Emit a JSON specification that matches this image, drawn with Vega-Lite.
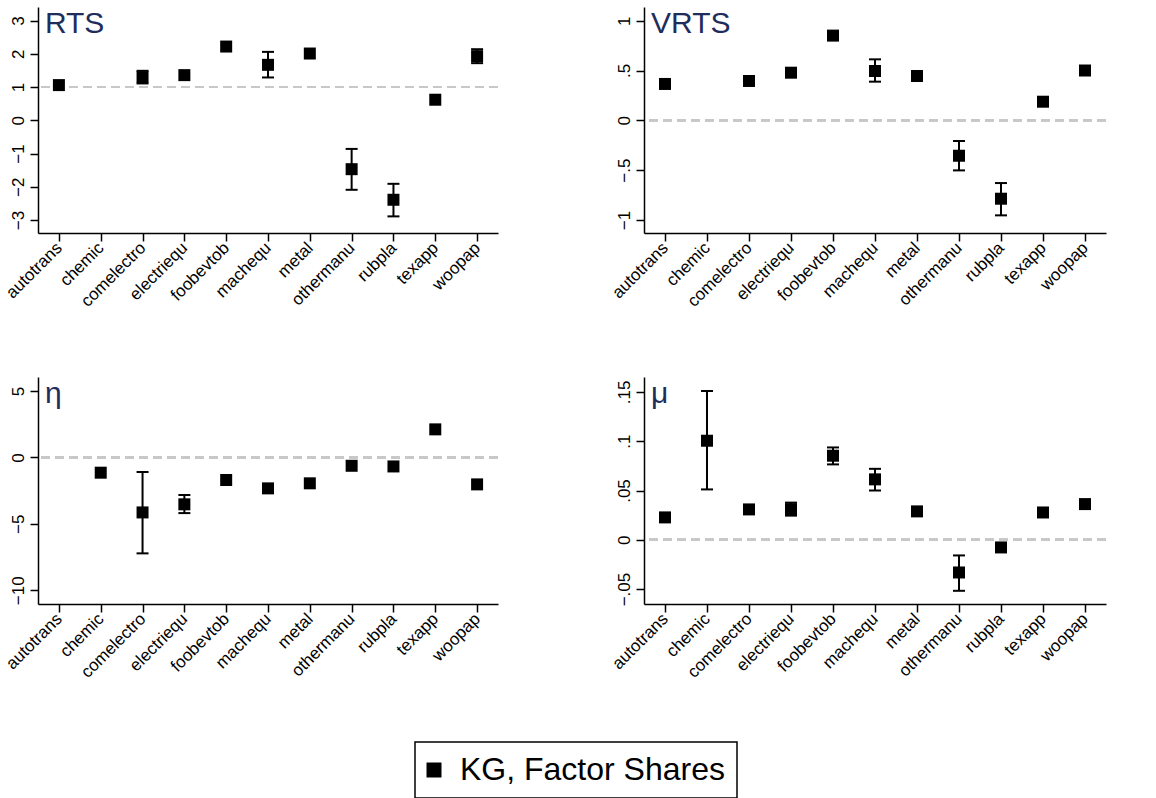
{
  "$schema": "https://vega.github.io/schema/vega-lite/v6.json",
  "padding": {"left": 2, "top": 7, "right": 0, "bottom": 0},
  "background": "white",
  "datasets": {
    "est": [
      {"p": "RTS", "ind": "autotrans", "est": 1.06, "lo": null, "hi": null},
      {"p": "RTS", "ind": "comelectro", "est": 1.30, "lo": 1.11, "hi": 1.49},
      {"p": "RTS", "ind": "electriequ", "est": 1.36, "lo": null, "hi": null},
      {"p": "RTS", "ind": "foobevtob", "est": 2.22, "lo": null, "hi": null},
      {"p": "RTS", "ind": "machequ", "est": 1.67, "lo": 1.29, "hi": 2.06},
      {"p": "RTS", "ind": "metal", "est": 2.01, "lo": null, "hi": null},
      {"p": "RTS", "ind": "othermanu", "est": -1.47, "lo": -2.09, "hi": -0.86},
      {"p": "RTS", "ind": "rubpla", "est": -2.39, "lo": -2.89, "hi": -1.91},
      {"p": "RTS", "ind": "texapp", "est": 0.62, "lo": null, "hi": null},
      {"p": "RTS", "ind": "woopap", "est": 1.93, "lo": 1.72, "hi": 2.14},
      {"p": "VRTS", "ind": "autotrans", "est": 0.365, "lo": null, "hi": null},
      {"p": "VRTS", "ind": "comelectro", "est": 0.395, "lo": null, "hi": null},
      {"p": "VRTS", "ind": "electriequ", "est": 0.478, "lo": null, "hi": null},
      {"p": "VRTS", "ind": "foobevtob", "est": 0.85, "lo": null, "hi": null},
      {"p": "VRTS", "ind": "machequ", "est": 0.495, "lo": 0.388, "hi": 0.612},
      {"p": "VRTS", "ind": "metal", "est": 0.445, "lo": null, "hi": null},
      {"p": "VRTS", "ind": "othermanu", "est": -0.355, "lo": -0.502, "hi": -0.207},
      {"p": "VRTS", "ind": "rubpla", "est": -0.786, "lo": -0.953, "hi": -0.629},
      {"p": "VRTS", "ind": "texapp", "est": 0.187, "lo": null, "hi": null},
      {"p": "VRTS", "ind": "woopap", "est": 0.50, "lo": null, "hi": null},
      {"p": "eta", "ind": "chemic", "est": -1.15, "lo": null, "hi": null},
      {"p": "eta", "ind": "comelectro", "est": -4.14, "lo": -7.22, "hi": -1.10},
      {"p": "eta", "ind": "electriequ", "est": -3.53, "lo": -4.19, "hi": -2.83},
      {"p": "eta", "ind": "foobevtob", "est": -1.70, "lo": null, "hi": null},
      {"p": "eta", "ind": "machequ", "est": -2.33, "lo": null, "hi": null},
      {"p": "eta", "ind": "metal", "est": -1.95, "lo": null, "hi": null},
      {"p": "eta", "ind": "othermanu", "est": -0.63, "lo": null, "hi": null},
      {"p": "eta", "ind": "rubpla", "est": -0.68, "lo": null, "hi": null},
      {"p": "eta", "ind": "texapp", "est": 2.11, "lo": null, "hi": null},
      {"p": "eta", "ind": "woopap", "est": -2.03, "lo": null, "hi": null},
      {"p": "mu", "ind": "autotrans", "est": 0.0227, "lo": null, "hi": null},
      {"p": "mu", "ind": "chemic", "est": 0.1005, "lo": 0.0511, "hi": 0.151},
      {"p": "mu", "ind": "comelectro", "est": 0.0308, "lo": null, "hi": null},
      {"p": "mu", "ind": "electriequ", "est": 0.0311, "lo": 0.0245, "hi": 0.0377},
      {"p": "mu", "ind": "foobevtob", "est": 0.0853, "lo": 0.0765, "hi": 0.0937},
      {"p": "mu", "ind": "machequ", "est": 0.0613, "lo": 0.050, "hi": 0.072},
      {"p": "mu", "ind": "metal", "est": 0.0288, "lo": null, "hi": null},
      {"p": "mu", "ind": "othermanu", "est": -0.0332, "lo": -0.0518, "hi": -0.0159},
      {"p": "mu", "ind": "rubpla", "est": -0.0078, "lo": null, "hi": null},
      {"p": "mu", "ind": "texapp", "est": 0.0277, "lo": null, "hi": null},
      {"p": "mu", "ind": "woopap", "est": 0.0362, "lo": null, "hi": null}
    ]
  },
  "data": {"name": "est"},
  "config": {
    "view": {"stroke": null},
    "axis": {"grid": false, "domainColor": "black", "domainWidth": 1.5, "tickColor": "black", "tickWidth": 1.5, "tickSize": 8, "labelColor": "black", "labelFont": "Liberation Sans", "labelFontSize": 17, "labelOverlap": false},
    "axisY": {"labelOverlap": false, "labelAngle": -90, "labelAlign": "center", "labelBaseline": "bottom", "labelPadding": 3, "tickCount": 10},
    "legend": {"orient": "none", "legendX": 377, "legendY": 735, "strokeColor": "black", "strokeWidth": 1.5, "padding": 12, "labelFont": "Liberation Sans", "labelFontSize": 32, "labelColor": "black", "labelLimit": 400, "symbolType": "square", "symbolSize": 225, "symbolFillColor": "black", "symbolStrokeWidth": 0, "symbolOffset": -9, "labelOffset": 10}
  },
  "spacing": 67,
  "resolve": {"scale": {"x": "independent", "y": "independent", "color": "shared"}, "legend": {"color": "shared"}},
  "vconcat": [
    {
      "spacing": 109,
      "resolve": {"scale": {"x": "independent", "y": "independent", "color": "shared"}, "legend": {"color": "shared"}},
      "hconcat": [
        {
          "width": 460, "height": 226,
          "transform": [{"filter": "datum.p == 'RTS'"}],
          "layer": [
            {"mark": {"type": "rule", "strokeDash": [9, 5], "color": "#c8c8c8", "strokeWidth": 2}, "encoding": {"y": {"datum": 1, "type": "quantitative", "title": null, "scale": {"domain": [-3.39, 3.41], "nice": false, "zero": false}, "axis": {"values": [-3, -2, -1, 0, 1, 2, 3], "tickCount": 10, "labelExpr": "replace(format(datum.value, ''), '0.', '.')", "labelOverlap": false}}}},
            {"transform": [{"filter": "datum.lo != null"}], "mark": {"type": "rule", "color": "black", "strokeWidth": 2}, "encoding": {"x": {"field": "ind", "type": "nominal", "title": null, "scale": {"type": "point", "domain": ["autotrans","chemic","comelectro","electriequ","foobevtob","machequ","metal","othermanu","rubpla","texapp","woopap"], "padding": 0.5}}, "y": {"field": "lo", "type": "quantitative", "title": null}, "y2": {"field": "hi"}}},
            {"transform": [{"filter": "datum.lo != null"}], "mark": {"type": "tick", "orient": "horizontal", "size": 12, "thickness": 2, "color": "black", "opacity": 1}, "encoding": {"x": {"field": "ind", "type": "nominal", "title": null}, "y": {"field": "lo", "type": "quantitative", "title": null}}},
            {"transform": [{"filter": "datum.lo != null"}], "mark": {"type": "tick", "orient": "horizontal", "size": 12, "thickness": 2, "color": "black", "opacity": 1}, "encoding": {"x": {"field": "ind", "type": "nominal", "title": null}, "y": {"field": "hi", "type": "quantitative", "title": null}}},
            {"mark": {"type": "point", "shape": "square", "filled": true, "size": 144, "opacity": 1}, "encoding": {
              "x": {"field": "ind", "type": "nominal", "title": null, "axis": {"labelAngle": -45, "labelAlign": "right", "labelBaseline": "middle", "labelPadding": 4}},
              "y": {"field": "est", "type": "quantitative", "title": null},
              "color": {"datum": "KG, Factor Shares", "type": "nominal", "scale": {"domain": ["KG, Factor Shares"], "range": ["#000000"]}, "legend": {"title": null}}
            }},
            {"data": {"values": [{}]}, "mark": {"type": "text", "text": "RTS", "align": "left", "baseline": "alphabetic", "fontSize": 30, "font": "Liberation Sans", "color": "#1f2d5c", "dx": -14, "dy": 26}, "encoding": {"x": {"datum": "autotrans"}, "y": {"datum": 3.41}}}
          ]
        },
        {
          "width": 462, "height": 226,
          "transform": [{"filter": "datum.p == 'VRTS'"}],
          "layer": [
            {"mark": {"type": "rule", "strokeDash": [9, 5], "color": "#c8c8c8", "strokeWidth": 2}, "encoding": {"y": {"datum": 0, "type": "quantitative", "title": null, "scale": {"domain": [-1.13, 1.137], "nice": false, "zero": false}, "axis": {"values": [-1, -0.5, 0, 0.5, 1], "tickCount": 10, "labelExpr": "replace(format(datum.value, ''), '0.', '.')", "labelOverlap": false}}}},
            {"transform": [{"filter": "datum.lo != null"}], "mark": {"type": "rule", "color": "black", "strokeWidth": 2}, "encoding": {"x": {"field": "ind", "type": "nominal", "title": null, "scale": {"type": "point", "domain": ["autotrans","chemic","comelectro","electriequ","foobevtob","machequ","metal","othermanu","rubpla","texapp","woopap"], "padding": 0.5}}, "y": {"field": "lo", "type": "quantitative", "title": null}, "y2": {"field": "hi"}}},
            {"transform": [{"filter": "datum.lo != null"}], "mark": {"type": "tick", "orient": "horizontal", "size": 12, "thickness": 2, "color": "black", "opacity": 1}, "encoding": {"x": {"field": "ind", "type": "nominal", "title": null}, "y": {"field": "lo", "type": "quantitative", "title": null}}},
            {"transform": [{"filter": "datum.lo != null"}], "mark": {"type": "tick", "orient": "horizontal", "size": 12, "thickness": 2, "color": "black", "opacity": 1}, "encoding": {"x": {"field": "ind", "type": "nominal", "title": null}, "y": {"field": "hi", "type": "quantitative", "title": null}}},
            {"mark": {"type": "point", "shape": "square", "filled": true, "size": 144, "opacity": 1}, "encoding": {
              "x": {"field": "ind", "type": "nominal", "title": null, "axis": {"labelAngle": -45, "labelAlign": "right", "labelBaseline": "middle", "labelPadding": 4}},
              "y": {"field": "est", "type": "quantitative", "title": null},
              "color": {"datum": "KG, Factor Shares", "type": "nominal", "scale": {"domain": ["KG, Factor Shares"], "range": ["#000000"]}, "legend": {"title": null}}
            }},
            {"data": {"values": [{}]}, "mark": {"type": "text", "text": "VRTS", "align": "left", "baseline": "alphabetic", "fontSize": 30, "font": "Liberation Sans", "color": "#1f2d5c", "dx": -14, "dy": 26}, "encoding": {"x": {"datum": "autotrans"}, "y": {"datum": 1.137}}}
          ]
        }
      ]
    },
    {
      "spacing": 109,
      "resolve": {"scale": {"x": "independent", "y": "independent", "color": "shared"}, "legend": {"color": "shared"}},
      "hconcat": [
        {
          "width": 460, "height": 227,
          "transform": [{"filter": "datum.p == 'eta'"}],
          "layer": [
            {"mark": {"type": "rule", "strokeDash": [9, 5], "color": "#c8c8c8", "strokeWidth": 2}, "encoding": {"y": {"datum": 0, "type": "quantitative", "title": null, "scale": {"domain": [-11.03, 6.05], "nice": false, "zero": false}, "axis": {"values": [-10, -5, 0, 5], "tickCount": 10, "labelExpr": "replace(format(datum.value, ''), '0.', '.')", "labelOverlap": false}}}},
            {"transform": [{"filter": "datum.lo != null"}], "mark": {"type": "rule", "color": "black", "strokeWidth": 2}, "encoding": {"x": {"field": "ind", "type": "nominal", "title": null, "scale": {"type": "point", "domain": ["autotrans","chemic","comelectro","electriequ","foobevtob","machequ","metal","othermanu","rubpla","texapp","woopap"], "padding": 0.5}}, "y": {"field": "lo", "type": "quantitative", "title": null}, "y2": {"field": "hi"}}},
            {"transform": [{"filter": "datum.lo != null"}], "mark": {"type": "tick", "orient": "horizontal", "size": 12, "thickness": 2, "color": "black", "opacity": 1}, "encoding": {"x": {"field": "ind", "type": "nominal", "title": null}, "y": {"field": "lo", "type": "quantitative", "title": null}}},
            {"transform": [{"filter": "datum.lo != null"}], "mark": {"type": "tick", "orient": "horizontal", "size": 12, "thickness": 2, "color": "black", "opacity": 1}, "encoding": {"x": {"field": "ind", "type": "nominal", "title": null}, "y": {"field": "hi", "type": "quantitative", "title": null}}},
            {"mark": {"type": "point", "shape": "square", "filled": true, "size": 144, "opacity": 1}, "encoding": {
              "x": {"field": "ind", "type": "nominal", "title": null, "axis": {"labelAngle": -45, "labelAlign": "right", "labelBaseline": "middle", "labelPadding": 4}},
              "y": {"field": "est", "type": "quantitative", "title": null},
              "color": {"datum": "KG, Factor Shares", "type": "nominal", "scale": {"domain": ["KG, Factor Shares"], "range": ["#000000"]}, "legend": {"title": null}}
            }},
            {"data": {"values": [{}]}, "mark": {"type": "text", "text": "η", "align": "left", "baseline": "alphabetic", "fontSize": 30, "font": "Liberation Sans", "color": "#1f2d5c", "dx": -14, "dy": 26}, "encoding": {"x": {"datum": "autotrans"}, "y": {"datum": 6.05}}}
          ]
        },
        {
          "width": 462, "height": 227,
          "transform": [{"filter": "datum.p == 'mu'"}],
          "layer": [
            {"mark": {"type": "rule", "strokeDash": [9, 5], "color": "#c8c8c8", "strokeWidth": 2}, "encoding": {"y": {"datum": 0, "type": "quantitative", "title": null, "scale": {"domain": [-0.0652, 0.1652], "nice": false, "zero": false}, "axis": {"values": [-0.05, 0, 0.05, 0.1, 0.15], "tickCount": 10, "labelExpr": "replace(format(datum.value, ''), '0.', '.')", "labelOverlap": false}}}},
            {"transform": [{"filter": "datum.lo != null"}], "mark": {"type": "rule", "color": "black", "strokeWidth": 2}, "encoding": {"x": {"field": "ind", "type": "nominal", "title": null, "scale": {"type": "point", "domain": ["autotrans","chemic","comelectro","electriequ","foobevtob","machequ","metal","othermanu","rubpla","texapp","woopap"], "padding": 0.5}}, "y": {"field": "lo", "type": "quantitative", "title": null}, "y2": {"field": "hi"}}},
            {"transform": [{"filter": "datum.lo != null"}], "mark": {"type": "tick", "orient": "horizontal", "size": 12, "thickness": 2, "color": "black", "opacity": 1}, "encoding": {"x": {"field": "ind", "type": "nominal", "title": null}, "y": {"field": "lo", "type": "quantitative", "title": null}}},
            {"transform": [{"filter": "datum.lo != null"}], "mark": {"type": "tick", "orient": "horizontal", "size": 12, "thickness": 2, "color": "black", "opacity": 1}, "encoding": {"x": {"field": "ind", "type": "nominal", "title": null}, "y": {"field": "hi", "type": "quantitative", "title": null}}},
            {"mark": {"type": "point", "shape": "square", "filled": true, "size": 144, "opacity": 1}, "encoding": {
              "x": {"field": "ind", "type": "nominal", "title": null, "axis": {"labelAngle": -45, "labelAlign": "right", "labelBaseline": "middle", "labelPadding": 4}},
              "y": {"field": "est", "type": "quantitative", "title": null},
              "color": {"datum": "KG, Factor Shares", "type": "nominal", "scale": {"domain": ["KG, Factor Shares"], "range": ["#000000"]}, "legend": {"title": null}}
            }},
            {"data": {"values": [{}]}, "mark": {"type": "text", "text": "μ", "align": "left", "baseline": "alphabetic", "fontSize": 30, "font": "Liberation Sans", "color": "#1f2d5c", "dx": -14, "dy": 26}, "encoding": {"x": {"datum": "autotrans"}, "y": {"datum": 0.1652}}}
          ]
        }
      ]
    }
  ]
}
